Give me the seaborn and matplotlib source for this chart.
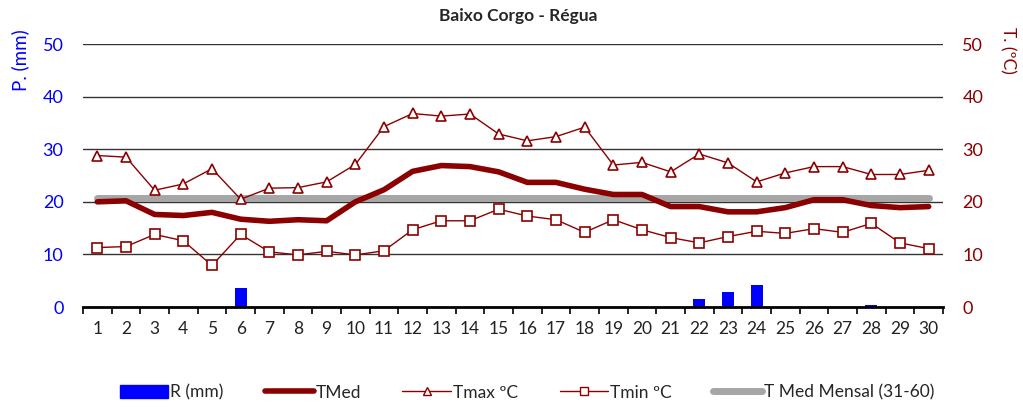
import seaborn as sns
import pandas as pd
import matplotlib.pyplot as plt
from matplotlib.lines import Line2D
from matplotlib.patches import Patch

# daily data
days = list(range(1, 31))
rain = [0, 0, 0, 0, 0, 3.6, 0, 0, 0, 0,
        0, 0, 0, 0, 0, 0, 0, 0, 0, 0,
        0, 1.6, 2.8, 4.2, 0, 0, 0, 0.4, 0, 0]
tmed = [20.0, 20.2, 17.6, 17.4, 18.0, 16.7, 16.3, 16.6, 16.4, 20.0,
        22.3, 25.8, 26.9, 26.7, 25.7, 23.7, 23.7, 22.4, 21.4, 21.4,
        19.1, 19.1, 18.1, 18.1, 18.9, 20.4, 20.4, 19.3, 18.9, 19.1]
tmax = [28.8, 28.5, 22.2, 23.4, 26.3, 20.5, 22.6, 22.7, 23.8, 27.1,
        34.3, 36.8, 36.3, 36.7, 32.9, 31.6, 32.4, 34.2, 27.0, 27.5,
        25.7, 29.1, 27.4, 23.8, 25.5, 26.7, 26.7, 25.2, 25.2, 26.0]
tmin = [11.3, 11.5, 13.8, 12.6, 7.9, 13.8, 10.5, 9.9, 10.6, 9.9,
        10.7, 14.7, 16.4, 16.4, 18.6, 17.3, 16.6, 14.2, 16.6, 14.7,
        13.2, 12.2, 13.4, 14.4, 14.0, 14.9, 14.2, 15.9, 12.2, 11.1]
tmed_normal = 20.8

df = pd.DataFrame({"day": days, "rain": rain, "tmed": tmed,
                   "tmax": tmax, "tmin": tmin})
df["pos"] = range(len(df))
df["normal"] = tmed_normal

sns.set_style("white")
plt.rcParams["font.family"] = ["Lato", "DejaVu Sans"]

dred = "#8B0000"
blue = "#0000FF"

fig = plt.figure(figsize=(10.23, 4.08), dpi=100)
ax = fig.add_axes([0.0811, 0.2475, 0.8407, 0.6445])

# rain bars on the left axis
sns.barplot(data=df, x="day", y="rain", color=blue, width=0.41,
            saturation=1, linewidth=0, ax=ax, zorder=3)
ax.set_ylim(0, 50)
ax.set_xlim(-0.5, 29.5)
ax.set_yticks(range(0, 51, 10))
for y in range(10, 51, 10):
    ax.axhline(y, color="#333333", lw=1.0, zorder=1)
ax.tick_params(axis="y", colors=blue, labelsize=13, length=0, pad=14)
ax.tick_params(axis="x", labelsize=12.5, length=0, pad=10)
ax.set_xticks(range(30))
ax.set_xticklabels([str(d) for d in days], color="#222222")
ax.set_xticks([i - 0.5 for i in range(31)], minor=True)
ax.tick_params(axis="x", which="minor", bottom=True, length=5, width=1.2,
               color="black", direction="out")
for s in ["left", "right", "top"]:
    ax.spines[s].set_visible(False)
ax.spines["bottom"].set_linewidth(2)
ax.spines["bottom"].set_color("black")
ax.spines["bottom"].set_zorder(5)
ax.set_xlabel("")
ax.set_ylabel("")
fig.text(0.02, 0.928, "P. (mm)", rotation=90, color=blue, fontsize=13.5,
         ha="center", va="top")

# temperatures on the right axis
ax2 = ax.twinx()
ax2.set_ylim(0, 50)
sns.lineplot(data=df, x="pos", y="normal", color="#A6A6A6", lw=5,
             ax=ax2, zorder=2)
sns.lineplot(data=df, x="pos", y="tmed", color=dred, lw=4, ax=ax2, zorder=3)
sns.lineplot(data=df, x="pos", y="tmax", color=dred, lw=1, marker="^",
             markersize=7, markerfacecolor="white", markeredgecolor=dred,
             markeredgewidth=1.2, ax=ax2, zorder=4)
sns.lineplot(data=df, x="pos", y="tmin", color=dred, lw=1, marker="s",
             markersize=7, markerfacecolor="white", markeredgecolor=dred,
             markeredgewidth=1.2, ax=ax2, zorder=4)
ax2.set_xlim(-0.5, 29.5)
ax2.set_yticks(range(0, 51, 10))
ax2.tick_params(axis="y", colors=dred, labelsize=13, length=0, pad=14)
for s in ["left", "right", "top", "bottom"]:
    ax2.spines[s].set_visible(False)
ax2.set_xlabel("")
ax2.set_ylabel("")
fig.text(0.985, 0.935, "T. (ºC)", rotation=270, color=dred, fontsize=12.5,
         ha="center", va="top")

fig.text(0.507, 0.962, "Baixo Corgo - Régua", fontsize=12.5,
         fontweight="bold", ha="center", va="center")

handles = [
    Patch(facecolor=blue, edgecolor=blue),
    Line2D([], [], color=dred, lw=4),
    Line2D([], [], color=dred, lw=1, marker="^", markersize=6,
           markerfacecolor="white", markeredgecolor=dred),
    Line2D([], [], color=dred, lw=1, marker="s", markersize=6,
           markerfacecolor="white", markeredgecolor=dred),
    Line2D([], [], color="#A6A6A6", lw=5),
]
labels = ["R (mm)", "TMed", "Tmax ºC", "Tmin ºC", "T Med Mensal (31-60)"]
fig.legend(handles, labels, loc="center", bbox_to_anchor=(0.515, 0.038),
           ncol=5, frameon=False, fontsize=12.5, handlelength=2.8,
           handletextpad=0.1, columnspacing=2.4, handleheight=0.8)

fig.savefig("out.png", dpi=100)
